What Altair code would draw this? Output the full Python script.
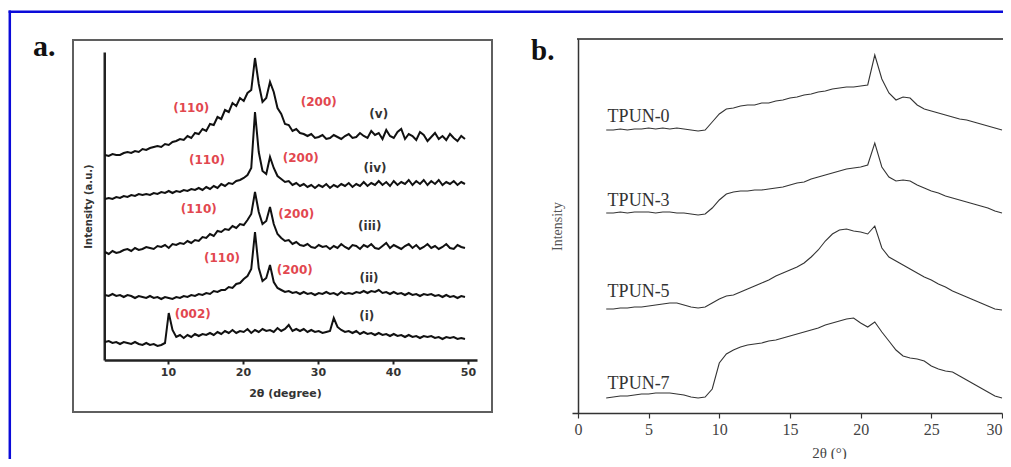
import altair as alt
import pandas as pd

# ---------------- panel a (XRD, 2θ in degree) ----------------
A_X = [1.6, 2.1, 2.6, 3.1, 3.6, 4.1, 4.6, 5.1, 5.6, 6.1,
       6.6, 7.1, 7.6, 8.1, 8.6, 9.1, 9.6, 10.1, 10.6, 11.1,
       11.6, 12.1, 12.6, 13.1, 13.6, 14.1, 14.6, 15.1, 15.6, 16.1,
       16.6, 17.1, 17.6, 18.1, 18.6, 19.1, 19.6, 20.1, 20.6, 21.1,
       21.6, 22.1, 22.6, 23.1, 23.6, 24.1, 24.6, 25.1, 25.6, 26.1,
       26.6, 27.1, 27.6, 28.1, 28.6, 29.1, 29.6, 30.1, 30.6, 31.1,
       31.6, 32.1, 32.6, 33.1, 33.6, 34.1, 34.6, 35.1, 35.6, 36.1,
       36.6, 37.1, 37.6, 38.1, 38.6, 39.1, 39.6, 40.1, 40.6, 41.1,
       41.6, 42.1, 42.6, 43.1, 43.6, 44.1, 44.6, 45.1, 45.6, 46.1,
       46.6, 47.1, 47.6, 48.1, 48.6, 49.1, 49.6]

A_V = [205, 204, 206, 205, 205, 207, 208, 207, 209, 208,
       211, 210, 212, 213, 214, 213, 216, 215, 218, 219,
       221, 220, 224, 222, 227, 226, 231, 229, 236, 235,
       243, 241, 250, 248, 257, 254, 262, 259, 267, 270,
       302, 276, 258, 262, 278, 268, 252, 246, 236, 235,
       229, 231, 227, 226, 224, 226, 222, 223, 225, 221,
       222, 225, 223, 221, 224, 226, 222, 223, 227, 224,
       222, 229, 225, 227, 221, 230, 224, 222, 228, 231,
       221, 226, 224, 220, 228, 225, 219, 223, 227, 221,
       224, 220, 226, 222, 219, 224, 221]

A_IV = [161, 162, 161, 163, 162, 164, 163, 165, 164, 166,
        165, 166, 165, 167, 166, 168, 167, 169, 167, 169,
        168, 170, 169, 171, 170, 172, 170, 173, 171, 174,
        172, 176, 174, 177, 176, 179, 180, 182, 185, 192,
        248, 208, 189, 186, 203, 192, 184, 181, 178, 179,
        175, 177, 174, 176, 173, 175, 172, 175, 173, 176,
        172, 175, 173, 176, 174, 177, 173, 176, 174, 178,
        174, 177, 175, 179, 175, 178, 174, 179, 175, 178,
        176, 180, 175, 179, 176, 180, 175, 179, 176, 180,
        175, 178, 176, 179, 175, 178, 176]

A_III = [108, 106, 109, 107, 108, 110, 111, 109, 112, 110,
         111, 113, 112, 111, 114, 113, 115, 112, 116, 115,
         117, 116, 119, 117, 120, 119, 123, 122, 126, 124,
         129, 128, 131, 130, 134, 132, 136, 135, 140, 146,
         168, 148, 136, 139, 153, 136, 126, 122, 119, 120,
         116, 118, 115, 114, 116, 113, 112, 115, 113, 114,
         111, 114, 112, 116, 113, 111, 115, 114, 111, 115,
         113, 116, 112, 111, 114, 117, 112, 115, 113, 111,
         114, 116, 112, 115, 111, 113, 116, 112, 114, 111,
         113, 116, 112, 111, 115, 113, 112]

A_II = [65, 64, 66, 64, 65, 63, 65, 64, 62, 64,
        63, 62, 64, 62, 63, 61, 63, 62, 61, 63,
        62, 64, 63, 65, 64, 66, 65, 67, 66, 69,
        68, 70, 70, 73, 72, 76, 77, 81, 84, 91,
        128, 92, 79, 82, 95, 78, 72, 70, 68, 69,
        67, 68, 66, 68, 66, 67, 65, 67, 66, 68,
        66, 67, 65, 68, 66, 67, 66, 68, 67, 69,
        67, 69, 68, 70, 67, 68, 66, 68, 66, 67,
        65, 67, 65, 66, 64, 66, 65, 66, 64, 65,
        63, 65, 63, 64, 62, 64, 63]

A_I = [18, 19, 17, 18, 16, 18, 17, 16, 18, 16,
       15, 17, 15, 16, 14, 15, 17, 47, 30, 23,
       25, 22, 25, 23, 26, 24, 26, 25, 27, 25,
       28, 26, 29, 27, 30, 27, 29, 28, 31, 27,
       30, 28, 31, 29, 30, 28, 32, 29, 31, 35,
       29, 31, 29, 31, 28, 30, 28, 29, 27, 28,
       29, 42, 33, 30, 28, 29, 27, 29, 26, 28,
       26, 27, 25, 27, 25, 26, 24, 26, 24, 25,
       23, 25, 23, 24, 22, 24, 23, 24, 22, 23,
       21, 23, 22, 23, 21, 22, 21]

A_SERIES = ["(v)", "(iv)", "(iii)", "(ii)", "(i)"]
A_VALUES = [A_V, A_IV, A_III, A_II, A_I]

A_PEAK_TEXT = ["(110)", "(200)", "(110)", "(200)", "(110)", "(200)", "(110)", "(200)", "(002)"]
A_PEAK_X = [13.1, 30.1, 15.2, 27.7, 14.1, 27.1, 17.2, 26.9, 13.3]
A_PEAK_Y = [252, 258, 200, 202, 151, 146, 102, 90, 46]

A_TAG_TEXT = ["(v)", "(iv)", "(iii)", "(ii)", "(i)"]
A_TAG_X = [38.1, 37.6, 36.9, 36.8, 36.5]
A_TAG_Y = [246, 192, 134, 82, 44]

A_TICKS = [10, 20, 30, 40, 50]

# ---------------- panel b (TPUN samples, 2θ in °) ----------------
B_X = [2.0, 2.5, 3.0, 3.5, 4.0, 4.5, 5.0, 5.5, 6.0, 6.5,
       7.0, 7.5, 8.0, 8.5, 9.0, 9.5, 10.0, 10.5, 11.0, 11.5,
       12.0, 12.5, 13.0, 13.5, 14.0, 14.5, 15.0, 15.5, 16.0, 16.5,
       17.0, 17.5, 18.0, 18.5, 19.0, 19.5, 20.0, 20.5, 21.0, 21.5,
       22.0, 22.5, 23.0, 23.5, 24.0, 24.5, 25.0, 25.5, 26.0, 26.5,
       27.0, 27.5, 28.0, 28.5, 29.0, 29.5, 30.0]

B_T0 = [283, 283, 284, 283, 284, 284, 285, 284, 285, 284,
        285, 284, 283, 282, 283, 291, 299, 304, 305, 307,
        308, 308, 310, 310, 312, 313, 315, 316, 318, 319,
        321, 322, 324, 325, 326, 326, 327, 328, 358, 334,
        320, 313, 316, 315, 308, 304, 302, 300, 298, 296,
        294, 293, 291, 289, 287, 285, 283]

B_T3 = [200, 200, 201, 200, 201, 201, 201, 200, 201, 201,
        200, 200, 199, 198, 199, 205, 213, 219, 221, 222,
        222, 223, 223, 224, 225, 226, 228, 230, 231, 234,
        236, 238, 240, 242, 244, 245, 246, 248, 270, 246,
        236, 232, 233, 232, 228, 225, 222, 220, 217, 215,
        213, 211, 209, 207, 205, 202, 200]

B_T5 = [104, 104, 105, 105, 106, 106, 107, 108, 109, 110,
        110, 108, 106, 105, 106, 110, 114, 117, 118, 121,
        124, 127, 130, 133, 137, 140, 143, 146, 150, 156,
        163, 172, 179, 183, 184, 182, 181, 179, 187, 165,
        156, 152, 148, 144, 140, 136, 133, 129, 126, 122,
        119, 116, 113, 110, 107, 104, 103]

B_T7 = [15, 16, 17, 17, 18, 19, 19, 20, 20, 20,
        19, 18, 16, 15, 16, 24, 50, 59, 63, 66,
        68, 69, 70, 72, 73, 75, 77, 79, 81, 83,
        85, 88, 90, 92, 94, 95, 90, 86, 91, 81,
        72, 63, 57, 55, 54, 52, 47, 44, 42, 41,
        37, 33, 29, 25, 21, 17, 15]

B_SERIES = ["TPUN-0", "TPUN-3", "TPUN-5", "TPUN-7"]
B_VALUES = [B_T0, B_T3, B_T5, B_T7]
B_TAG_X = [2.1, 2.1, 2.1, 2.1]
B_TAG_Y = [296, 212, 121, 29]
B_TICKS = [0, 5, 10, 15, 20, 25, 30]

# ---------------- tables ----------------
rows_a = [{"x": x, "y": y, "s": s} for s, ys in zip(A_SERIES, A_VALUES) for x, y in zip(A_X, ys)]
df_a = pd.DataFrame(rows_a)
df_a_peak = pd.DataFrame({"x": A_PEAK_X, "y": A_PEAK_Y, "t": A_PEAK_TEXT})
df_a_tag = pd.DataFrame({"x": A_TAG_X, "y": A_TAG_Y, "t": A_TAG_TEXT})

rows_b = [{"x": x, "y": y, "s": s} for s, ys in zip(B_SERIES, B_VALUES) for x, y in zip(B_X, ys)]
df_b = pd.DataFrame(rows_b)
df_b_tag = pd.DataFrame({"x": B_TAG_X, "y": B_TAG_Y, "t": B_SERIES})

# ---------------- layout (page pixels -> view pixels) ----------------
W, H = 995, 451
O = 8


def px(v):
    return v - O


SANS = "DejaVu Sans"
SERIF = "Liberation Serif"

# panel a scales / axes
xa = alt.X("x:Q",
           scale=alt.Scale(domain=[1.5, 51.2], range=[px(104.25), px(477)], nice=False, zero=False),
           axis=alt.Axis(orient="bottom", offset=px(360) - H, values=A_TICKS, format="d",
                         title="2θ (degree)", grid=False,
                         domainColor="#222", domainWidth=2.5,
                         tickColor="#222", tickWidth=2, tickSize=4,
                         labelFont=SANS, labelFontWeight="bold", labelFontSize=11,
                         labelColor="#333", labelPadding=2,
                         titleFont=SANS, titleFontWeight="bold", titleFontSize=11,
                         titleColor="#333", titleX=px(285), titleY=33, titleBaseline="middle"))
ya = alt.Y("y:Q",
           scale=alt.Scale(domain=[0, 308], range=[px(360), px(52)], nice=False, zero=False),
           axis=alt.Axis(orient="left", offset=-px(104.25), ticks=False, labels=False, grid=False,
                         domainColor="#222", domainWidth=2.5,
                         title="Intensity (a.u.)", titleFont=SANS, titleFontWeight="bold",
                         titleFontSize=10, titleColor="#333", titlePadding=11))

lines_a = alt.Chart(df_a).mark_line(color="#111", strokeWidth=2.0).encode(x=xa, y=ya, detail="s:N")
peak_a = alt.Chart(df_a_peak).mark_text(font=SANS, fontWeight="bold", fontSize=12, color="#e2474f",
                                        align="center", baseline="middle").encode(x=xa, y=ya, text="t:N")
tag_a = alt.Chart(df_a_tag).mark_text(font=SANS, fontWeight="bold", fontSize=12, color="#333",
                                      align="center", baseline="middle").encode(x=xa, y=ya, text="t:N")
panel_a = alt.layer(lines_a, peak_a, tag_a)

# panel b scales / axes
xb = alt.X("x:Q",
           scale=alt.Scale(domain=[-0.42, 30], range=[px(572), px(1002)], nice=False, zero=False),
           axis=alt.Axis(orient="bottom", offset=px(413) - H, values=B_TICKS, format="d",
                         title="2θ (°)", grid=False, labelFlush=3,
                         domainColor="#333", domainWidth=1.5,
                         tickColor="#333", tickWidth=1.2, tickSize=5,
                         labelFont=SERIF, labelFontSize=16, labelColor="#444", labelPadding=3,
                         titleFont=SERIF, titleFontSize=15, titleFontWeight="normal",
                         titleColor="#444", titleX=px(829), titleY=39, titleBaseline="middle"))
yb = alt.Y("y:Q",
           scale=alt.Scale(domain=[0, 374], range=[px(413), px(39)], nice=False, zero=False),
           axis=alt.Axis(orient="left", offset=-px(578), ticks=False, labels=False, grid=False,
                         domainColor="#333", domainWidth=1.5,
                         title="Intensity", titleFont=SERIF, titleFontSize=14,
                         titleFontWeight="normal", titleColor="#555", titlePadding=14))

lines_b = alt.Chart(df_b).mark_line(color="#333", strokeWidth=1.1).encode(x=xb, y=yb, detail="s:N")
tag_b = alt.Chart(df_b_tag).mark_text(font=SERIF, fontSize=18, color="#333",
                                      align="left", baseline="middle").encode(x=xb, y=yb, text="t:N")
panel_b = alt.layer(lines_b, tag_b)

# ---------------- decorations ----------------
one = pd.DataFrame({"k": [0]})
blue_top = alt.Chart(one).mark_rule(stroke="#0b0bd9", strokeWidth=2.5).encode(
    x=alt.value(px(8.6)), x2=alt.value(W), y=alt.value(px(11.7)))
blue_left = alt.Chart(one).mark_rule(stroke="#0b0bd9", strokeWidth=2.5).encode(
    x=alt.value(px(9.8)), y=alt.value(px(10.5)), y2=alt.value(H))
frame_a = alt.Chart(one).mark_rect(filled=False, stroke="#5f5f5f", strokeWidth=2).encode(
    x=alt.value(px(73)), x2=alt.value(px(492)), y=alt.value(px(40)), y2=alt.value(px(412)))
top_b = alt.Chart(one).mark_rule(stroke="#222", strokeWidth=1.5).encode(
    x=alt.value(px(577)), x2=alt.value(W), y=alt.value(px(39)))
label_a = alt.Chart(one).mark_text(text="a.", font=SERIF, fontWeight="bold", fontSize=30,
                                   color="#111", align="left", baseline="alphabetic").encode(
    x=alt.value(px(33)), y=alt.value(px(56)))
label_b = alt.Chart(one).mark_text(text="b.", font=SERIF, fontWeight="bold", fontSize=29,
                                   color="#111", align="left", baseline="alphabetic").encode(
    x=alt.value(px(531)), y=alt.value(px(60)))

chart = alt.layer(
    blue_top, blue_left, frame_a, top_b, label_a, label_b, panel_a, panel_b
).resolve_scale(
    x="independent", y="independent"
).properties(
    width=W, height=H, padding=0,
    autosize=alt.AutoSizeParams(type="none"),
    background="white",
).configure_view(strokeWidth=0)

chart.save("out.html", embed_options={"renderer": "svg", "actions": False})
